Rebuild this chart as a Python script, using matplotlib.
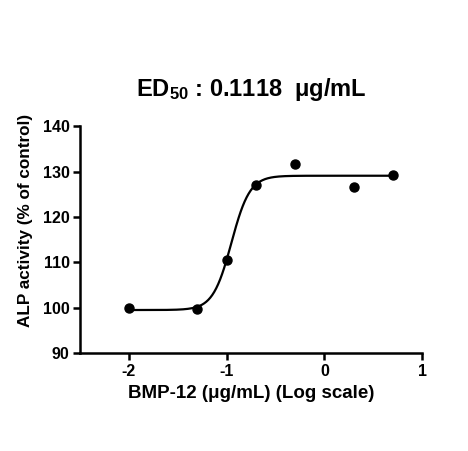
import numpy as np
import matplotlib
matplotlib.use("Agg")
import matplotlib.pyplot as plt

plt.rcParams['font.family'] = ['Liberation Sans', 'DejaVu Sans']
plt.rcParams['font.weight'] = 'bold'
plt.rcParams['axes.unicode_minus'] = False
plt.rcParams['mathtext.fontset'] = 'custom'
plt.rcParams['mathtext.rm'] = 'Liberation Sans:bold'
plt.rcParams['mathtext.bf'] = 'Liberation Sans:bold'
plt.rcParams['mathtext.it'] = 'Liberation Sans:bold'

log_dose = [-2.0, -1.3, -1.0, -0.7, -0.3, 0.3, 0.7]
activity = [100.0, 99.7, 110.5, 127.0, 131.7, 126.6, 129.2]

# fitted 4PL parameters
bottom, top, log_ec50, hill = 99.5, 129.1, np.log10(0.1118), 4.6

xticks = [-2, -1, 0, 1]
yticks = [90, 100, 110, 120, 130, 140]

fig = plt.figure(figsize=(4.68, 4.51), dpi=100)
ax = fig.add_axes([0.171, 0.217, 0.731, 0.503])

xf = np.linspace(min(log_dose), max(log_dose), 400)
yf = bottom + (top - bottom) / (1 + 10 ** ((log_ec50 - xf) * hill))
ax.plot(xf, yf, color='black', lw=1.6)
ax.plot(log_dose, activity, 'o', color='black', markersize=6.5)

ax.set_xlim(-2.5, 1.0)
ax.set_ylim(90, 140)
ax.set_xticks(xticks)
ax.set_yticks(yticks)
ax.spines['top'].set_visible(False)
ax.spines['right'].set_visible(False)
for s in ['left', 'bottom']:
    ax.spines[s].set_linewidth(1.8)
ax.tick_params(width=1.8, length=5, labelsize=11.5, direction='out', pad=2.5)
for lab in ax.get_xticklabels() + ax.get_yticklabels():
    lab.set_fontweight('bold')

ax.set_xlabel('BMP-12 (μg/mL) (Log scale)', fontsize=13.5, fontweight='bold', labelpad=5)
ax.set_ylabel('ALP activity (% of control)', fontsize=12.3, fontweight='bold')
ax.yaxis.set_label_coords(-0.137, 0.585)
ax.set_title('ED$_{50}$ : 0.1118  μg/mL', fontsize=17, fontweight='bold', pad=22)

fig.savefig('out.png', dpi=100)
